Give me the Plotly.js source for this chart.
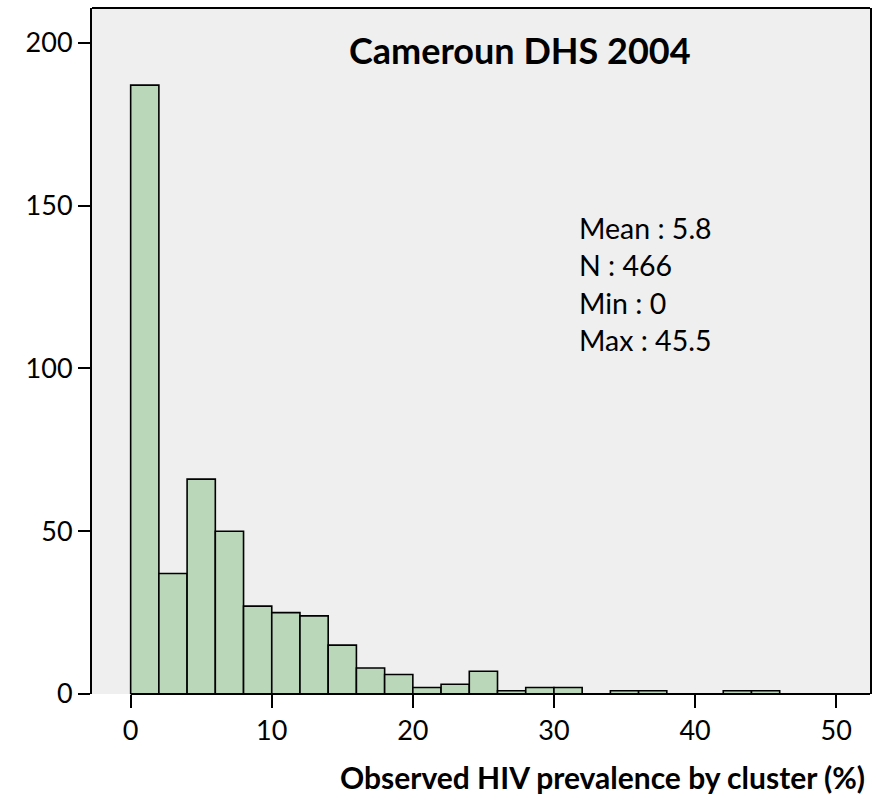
<!DOCTYPE html>
<html>
<head>
<meta charset="utf-8">
<script src="https://cdn.plot.ly/plotly-3.0.1.min.js"></script>
<style>html,body{margin:0;padding:0;background:#fff;}#chart{width:879px;height:800px;}</style>
</head>
<body>
<div id="chart"></div>
<script>
// Histogram bins: lower edges (%) and counts of clusters
const binStarts = [0, 2, 4, 6, 8, 10, 12, 14, 16, 18, 20, 22, 24, 26, 28, 30, 32, 34, 36, 38, 40, 42, 44];
const counts    = [187, 37, 66, 50, 27, 25, 24, 15, 8, 6, 2, 3, 7, 1, 2, 2, 0, 1, 1, 0, 0, 1, 1];
const binWidth = 2;
const xTicks = [0, 10, 20, 30, 40, 50];
const yTicks = [0, 50, 100, 150, 200];
const chartTitle = "Cameroun DHS 2004";
const xTitle = "Observed HIV prevalence by cluster (%)";
const statLines = ["Mean : 5.8", "N : 466", "Min : 0", "Max : 45.5"];

const FONT = "Lato, 'Open Sans', sans-serif";

const trace = {
  type: "bar",
  x: binStarts.map(b => b + binWidth / 2),
  y: counts,
  width: binStarts.map(() => binWidth),
  marker: { color: "#bad7b9", line: { color: "#000", width: 1.6 } },
  hoverinfo: "x+y"
};

const annotations = [
  { text: "<b>" + chartTitle + "</b>", xref: "paper", yref: "paper", x: 0.5495, y: 1 - (50 - 8) / 686,
    xanchor: "center", yanchor: "middle", showarrow: false, font: { family: FONT, size: 36, color: "#000" } },
  { text: "<b>" + xTitle + "</b>", xref: "paper", yref: "paper", x: 1, y: 0, yshift: -83,
    xanchor: "right", yanchor: "middle", xshift: -3, showarrow: false, font: { family: FONT, size: 30, color: "#000" } }
];
statLines.forEach((t, i) => {
  annotations.push({ text: t, xref: "paper", yref: "paper", x: (577 - 92) / 778, y: 1 - (228 + i * 37.3 - 8) / 686,
    xanchor: "left", yanchor: "middle", showarrow: false, font: { family: FONT, size: 28.5, color: "#000" } });
});

const layout = {
  width: 879, height: 800,
  margin: { l: 92, r: 9, t: 8, b: 106 },
  paper_bgcolor: "#fff",
  plot_bgcolor: "#efefef",
  showlegend: false,
  bargap: 0,
  xaxis: {
    range: [-2.74, 52.4], tickvals: xTicks, ticktext: xTicks.map(String),
    ticks: "outside", ticklen: 13, tickwidth: 2, tickcolor: "#000",
    showgrid: false, zeroline: false, showline: false,
    tickfont: { family: FONT, size: 27, color: "#000" }
  },
  yaxis: {
    range: [0, 210.7], tickvals: yTicks, ticktext: yTicks.map(String),
    ticks: "outside", ticklen: 12, tickwidth: 2, tickcolor: "#000",
    showgrid: false, zeroline: false, showline: true, linecolor: "#000", linewidth: 2, mirror: true,
    tickfont: { family: FONT, size: 27, color: "#000" }
  },
  shapes: [
    { type: "line", xref: "paper", yref: "paper", x0: 0, x1: 1, y0: 1, y1: 1, line: { color: "#000", width: 2 } },
    { type: "line", xref: "x", yref: "paper", x0: 0, x1: 52.4, y0: 0, y1: 0, line: { color: "#000", width: 2 } }
  ],
  annotations: annotations
};

Plotly.newPlot("chart", [trace], layout, { staticPlot: true, displayModeBar: false });
</script>
</body>
</html>
